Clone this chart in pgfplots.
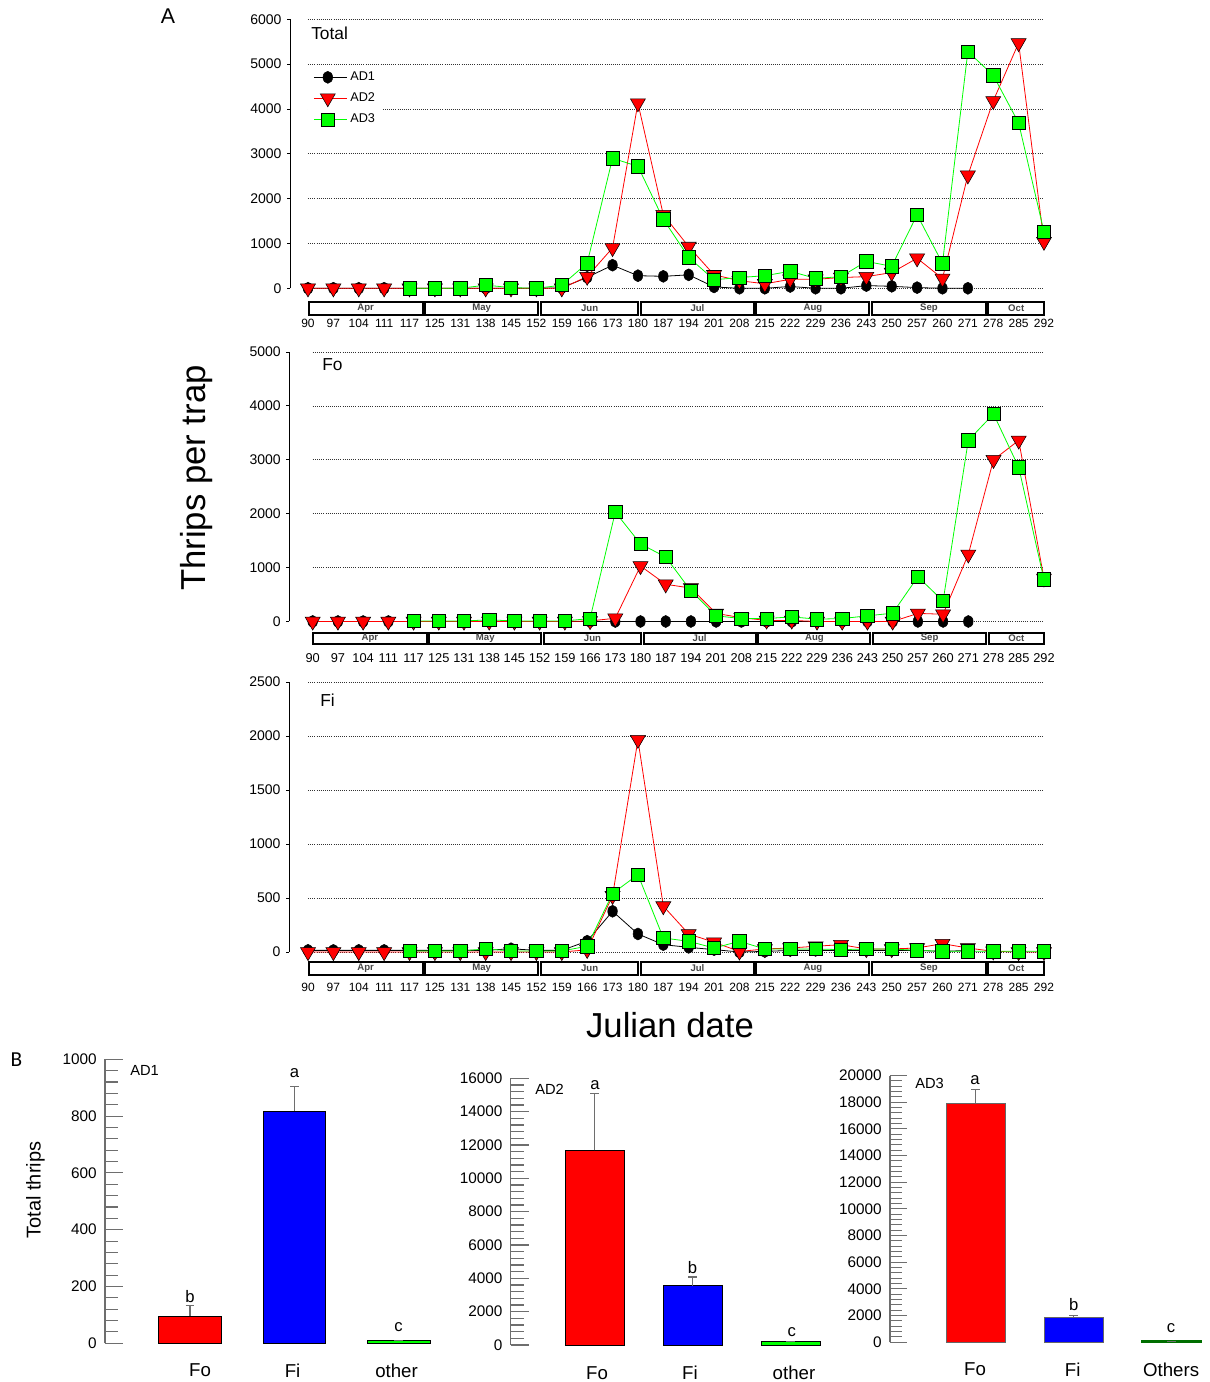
\documentclass[border=0pt]{standalone}
\usepackage{pgfplots}
\pgfplotsset{compat=1.18}
\usepackage{fontspec}
\setmainfont{Liberation Sans}
\newfontfamily\calib{Carlito}
\definecolor{ggreen}{RGB}{0,255,0}
\definecolor{dgreen}{RGB}{0,110,0}
\definecolor{tickgray}{RGB}{110,110,110}
\definecolor{mgray}{RGB}{70,70,70}

\tikzset{gridsty/.style={black!80, line width=0.55pt, dash pattern=on 0.7pt off 0.9pt}}
\pgfplotsset{
  linepanel/.style={
    scale only axis,
    axis y line*=left,
    axis x line*=bottom,
    x axis line style={draw=none},
    y axis line style={black, line width=0.6pt},
    xtick={0,...,29},
    xticklabels={90,97,104,111,117,125,131,138,145,152,159,166,173,180,187,194,201,208,215,222,229,236,243,250,257,260,271,278,285,292},
    major x tick style={draw=none},
    ytick style={black, line width=0.6pt},
    tick align=outside,
    major tick length=2.25pt,
    clip=false,
    xmax=29.3,
    xticklabel style={font=\fontsize{9}{10}\selectfont, anchor=center, yshift=-24.3pt},
    yticklabel style={font=\fontsize{10.5}{12}\selectfont, anchor=east, inner sep=0pt, xshift=-4pt},
  },
  ad1/.style={black, line width=0.6pt, mark=*, mark size=4.5pt, mark options={xscale=0.8, fill=black, draw=black, line width=0.4pt}},
  ad2/.style={red, line width=0.6pt, mark=triangle*, mark size=6.5pt, mark options={rotate=180, fill=red, draw=black, line width=0.4pt}},
  ad3/.style={ggreen, line width=0.6pt, mark=square*, mark size=5pt, mark options={fill=ggreen, draw=black, line width=0.5pt}},
  barpanel/.style={
    scale only axis,
    axis y line*=left,
    axis x line*=bottom,
    x axis line style={draw=none},
    major x tick style={draw=none},
    y axis line style={tickgray, line width=0.8pt},
    ytick style={tickgray, line width=0.8pt},
    minor y tick style={tickgray, line width=0.8pt},
    tick align=inside,
    major tick length=13.5pt,
    minor tick length=9.75pt,
    minor y tick num=4,
    ymin=0,
    clip=false,
    scaled y ticks=false,
    xticklabel style={font=\fontsize{14}{16}\selectfont, anchor=center, yshift=-20.5pt},
    yticklabel style={font=\fontsize{11.5}{13}\selectfont, anchor=east, inner sep=0pt, xshift=-6pt},
    error bars/y dir=plus,
    error bars/y explicit,
    error bars/error bar style={tickgray, line width=0.8pt},
    error bars/error mark options={tickgray, line width=0.8pt, mark size=3.3pt, rotate=90},
  },
}

\newcommand{\monthrow}[4]{%
  \foreach \a/\b/\m in {-0.03/4.57/Apr, 4.57/9.12/May, 9.12/13.07/Jun, 13.07/17.62/Jul, 17.62/22.17/Aug, 22.17/26.76/Sep, 26.76/29.05/Oct}{
    \draw[line width=1.5pt, fill=white] ({#1+\a*#2+1.3},#3) rectangle ({#1+\b*#2-1.3},#4);
    \node[font=\bfseries\fontsize{7.2}{8}\selectfont, text=mgray, inner sep=0pt] at ({#1+(\a+\b)/2*#2},{(#3+#4)/2}) {\m};
  }%
}

\begin{document}
\begin{tikzpicture}
\useasboundingbox (0,0) rectangle (907.5pt,1036.5pt);

% ---------------- Panel A: Total ----------------
\begin{axis}[linepanel, at={(217.5pt,820.275pt)}, anchor=south west,
  xmin=-0.709, ymin=0, ymax=6000, width=571.2pt, height=201.75pt,
  ytick={0,1000,2000,3000,4000,5000,6000},
  yticklabels={0,1000,2000,3000,4000,5000,6000},
  legend style={at={(axis cs:0,4950)}, anchor=north west, draw=none, fill=white,
    font=\fontsize{9.5}{11}\selectfont, row sep=3.5pt, inner xsep=4pt, inner ysep=2pt,
    cells={anchor=west}, /tikz/every even column/.append style={column sep=0pt}},
  legend image code/.code={\draw[mark repeat=2,mark phase=2] plot coordinates {(0pt,0pt)(10.35pt,0pt)(20.7pt,0pt)};\path (20.7pt,0pt) -- (25pt,0pt);}]
\pgfplotsinvokeforeach{0,1000,2000,3000,4000,5000,6000}{\draw[gridsty] (axis cs:0,#1) -- (axis cs:29,#1);}
\addplot[ad1] coordinates {(0,0)(1,0)(2,0)(3,0)(4,0)(5,0)(6,0)(7,0)(8,0)(9,0)(10,10)(11,244)(12,515)(13,281)(14,267)(15,300)(16,30)(17,0)(18,0)(19,40)(20,0)(21,0)(22,60)(23,44)(24,15)(25,0)(26,0)};
\addlegendentry{AD1}
\addplot[ad2] coordinates {(0,0)(1,0)(2,0)(3,0)(4,0)(5,0)(6,0)(7,0)(8,0)(9,0)(10,0)(11,260)(12,900)(13,4130)(14,1640)(15,930)(16,300)(17,170)(18,100)(19,200)(20,200)(21,240)(22,260)(23,350)(24,670)(25,220)(26,2520)(27,4180)(28,5470)(29,1040)};
\addlegendentry{AD2}
\addplot[ad3] coordinates {(4,0)(5,0)(6,0)(7,70)(8,15)(9,0)(10,70)(11,560)(12,2900)(13,2720)(14,1540)(15,690)(16,190)(17,240)(18,280)(19,380)(20,220)(21,260)(22,600)(23,490)(24,1640)(25,556)(26,5280)(27,4750)(28,3690)(29,1260)};
\addlegendentry{AD3}
\end{axis}

% ---------------- Panel A: Fo ----------------
\begin{axis}[linepanel, at={(216.975pt,570.375pt)}, anchor=south west,
  xmin=-0.928, ymin=0, ymax=5000, width=571.65pt, height=202.125pt,
  ytick={0,1000,2000,3000,4000,5000},
  yticklabels={0,1000,2000,3000,4000,5000},
  xticklabel style={font=\fontsize{9.6}{10}\selectfont, yshift=-0.6pt}]
\pgfplotsinvokeforeach{0,1000,2000,3000,4000,5000}{\draw[gridsty] (axis cs:0,#1) -- (axis cs:29,#1);}
\addplot[ad1] coordinates {(0,0)(1,0)(2,0)(3,0)(4,0)(5,0)(6,0)(7,0)(8,0)(9,0)(10,0)(11,0)(12,0)(13,0)(14,0)(15,0)(16,0)(17,0)(18,0)(19,0)(20,0)(21,0)(22,0)(23,0)(24,0)(25,0)(26,0)};
\addplot[ad2] coordinates {(0,0)(1,0)(2,0)(3,0)(4,0)(5,0)(6,0)(7,0)(8,0)(9,0)(10,0)(11,10)(12,60)(13,1030)(14,690)(15,620)(16,150)(17,70)(18,20)(19,20)(20,0)(21,0)(22,0)(23,0)(24,150)(25,135)(26,1245)(27,3000)(28,3360)(29,800)};
\addplot[ad3] coordinates {(4,10)(5,10)(6,10)(7,30)(8,10)(9,10)(10,10)(11,55)(12,2030)(13,1440)(14,1195)(15,570)(16,105)(17,55)(18,55)(19,86)(20,43)(21,55)(22,105)(23,154)(24,830)(25,380)(26,3360)(27,3850)(28,2860)(29,780)};
\end{axis}

% ---------------- Panel A: Fi ----------------
\begin{axis}[linepanel, at={(216.75pt,322.5pt)}, anchor=south west,
  xmin=-0.749, ymin=0, ymax=2500, width=571.95pt, height=202.5pt,
  ytick={0,500,1000,1500,2000,2500},
  yticklabels={0,500,1000,1500,2000,2500}]
\pgfplotsinvokeforeach{0,500,1000,1500,2000,2500}{\draw[gridsty] (axis cs:0,#1) -- (axis cs:29,#1);}
\addplot[ad1] coordinates {(0,15)(1,15)(2,15)(3,15)(4,15)(5,15)(6,15)(7,15)(8,30)(9,15)(10,15)(11,100)(12,377)(13,167)(14,68)(15,43)(16,22)(17,0)(18,5)(19,15)(20,15)(21,15)(22,15)(23,15)(24,15)(25,5)(26,15)};
\addplot[ad2] coordinates {(0,0)(1,0)(2,0)(3,0)(4,0)(5,0)(6,0)(7,0)(8,0)(9,0)(10,0)(11,20)(12,520)(13,1965)(14,425)(15,167)(16,90)(17,5)(18,28)(19,37)(20,53)(21,68)(22,28)(23,28)(24,37)(25,77)(26,37)(27,6)(28,0)(29,0)};
\addplot[ad3] coordinates {(4,10)(5,10)(6,10)(7,28)(8,10)(9,10)(10,10)(11,53)(12,541)(13,717)(14,130)(15,99)(16,37)(17,99)(18,28)(19,28)(20,28)(21,22)(22,28)(23,28)(24,15)(25,6)(26,6)(27,6)(28,6)(29,6)};
\end{axis}

% ---------------- Panel B: AD1 ----------------
\begin{axis}[barpanel, at={(78.75pt,29.025pt)}, anchor=south west,
  xmin=-0.814, xmax=2.4, ymax=1000, width=251.7pt, height=213pt,
  ytick={0,200,400,600,800,1000}, yticklabels={0,200,400,600,800,1000},
  xtick={0.096,0.982,1.978}, xticklabels={Fo,Fi,other}]
\addplot[ybar, bar width=46.95pt, fill=red, draw=black, line width=0.7pt] coordinates {(0,96) +- (0,36)};
\addplot[ybar, bar width=46.95pt, fill=blue, draw=black, line width=0.7pt] coordinates {(1,818) +- (0,85)};
\addplot[ybar, bar width=46.95pt, fill=ggreen, draw=black, line width=0.7pt] coordinates {(2,9) +- (0,0)};
\end{axis}

% ---------------- Panel B: AD2 ----------------
\begin{axis}[barpanel, at={(383.025pt,27.75pt)}, anchor=south west,
  xmin=-0.859, xmax=2.4, ymax=16000, width=239.5pt, height=200pt,
  ytick={0,2000,4000,6000,8000,10000,12000,14000,16000},
  yticklabels={0,2000,4000,6000,8000,10000,12000,14000,16000},
  xtick={0.022,0.971,2.032}, xticklabels={Fo,Fi,other},
  xticklabel style={yshift=-0.3pt}]
\addplot[ybar, bar width=43.7pt, fill=red, draw=black, line width=0.7pt] coordinates {(0,11680) +- (0,3400)};
\addplot[ybar, bar width=43.7pt, fill=blue, draw=black, line width=0.7pt] coordinates {(1,3560) +- (0,520)};
\addplot[ybar, bar width=43.7pt, fill=ggreen, draw=black, line width=0.7pt] coordinates {(2,200) +- (0,0)};
\end{axis}

% ---------------- Panel B: AD3 ----------------
\begin{axis}[barpanel, at={(667.5pt,29.775pt)}, anchor=south west,
  xmin=-0.872, xmax=2.35, ymax=20000, width=236.85pt, height=200pt,
  ytick={0,2000,4000,6000,8000,10000,12000,14000,16000,18000,20000},
  yticklabels={0,2000,4000,6000,8000,10000,12000,14000,16000,18000,20000},
  major tick length=12.75pt, minor tick length=9pt,
  xtick={-0.005,0.992,1.996}, xticklabels={Fo,Fi,Others}]
\addplot[ybar, bar width=44.25pt, fill=red, draw=black!60, line width=0.7pt] coordinates {(0,17920) +- (0,1070)};
\addplot[ybar, bar width=44.25pt, fill=blue, draw=black!60, line width=0.7pt] coordinates {(1,1875) +- (0,125)};
\addplot[ybar, bar width=44.25pt, fill=dgreen, draw=dgreen, line width=0.9pt] coordinates {(2,90) +- (0,0)};
\end{axis}

% ---------------- decorations in pixel coordinates ----------------
\begin{scope}[shift={(0pt,1036.5pt)}, x=0.75pt, y=-0.75pt]
  \monthrow{308}{25.379}{301.7}{315}
  \monthrow{312.7}{25.217}{632.7}{644.3}
  \monthrow{308}{25.379}{962}{975}
  \node[font=\fontsize{16}{18}\selectfont] at (168,16) {A};
  \node[font=\calib\fontsize{16}{18}\selectfont] at (16.5,1060) {B};
  \node[font=\fontsize{13}{15}\selectfont, anchor=west, inner sep=0pt] at (311,33) {Total};
  \node[font=\fontsize{13}{15}\selectfont, anchor=west, inner sep=0pt] at (322,365) {Fo};
  \node[font=\fontsize{13}{15}\selectfont, anchor=west, inner sep=0pt] at (320,700) {Fi};
  \node[font=\fontsize{26}{30}\selectfont, rotate=90] at (197,478) {Thrips per trap};
  \node[font=\fontsize{26}{30}\selectfont] at (670,1025) {Julian date};
  \node[font=\fontsize{15}{17}\selectfont, rotate=90] at (35.5,1190) {Total thrips};
  % bar letters
  \begin{scope}[every node/.style={font=\fontsize{12.5}{14}\selectfont, inner sep=0pt}]
    \node at (190,1296.7) {b};
    \node at (294.4,1073) {a};
    \node at (398.5,1326.7) {c};
    \node at (595,1085) {a};
    \node at (692.5,1268) {b};
    \node at (791.7,1331.7) {c};
    \node at (975,1080) {a};
    \node at (1073.7,1305) {b};
    \node at (1171,1328) {c};
  \end{scope}
  \begin{scope}[every node/.style={font=\fontsize{11}{13}\selectfont, inner sep=0pt, anchor=west}]
    \node at (130,1070) {AD1};
    \node at (535,1089) {AD2};
    \node at (915,1083) {AD3};
  \end{scope}
\end{scope}
\end{tikzpicture}
\end{document}
